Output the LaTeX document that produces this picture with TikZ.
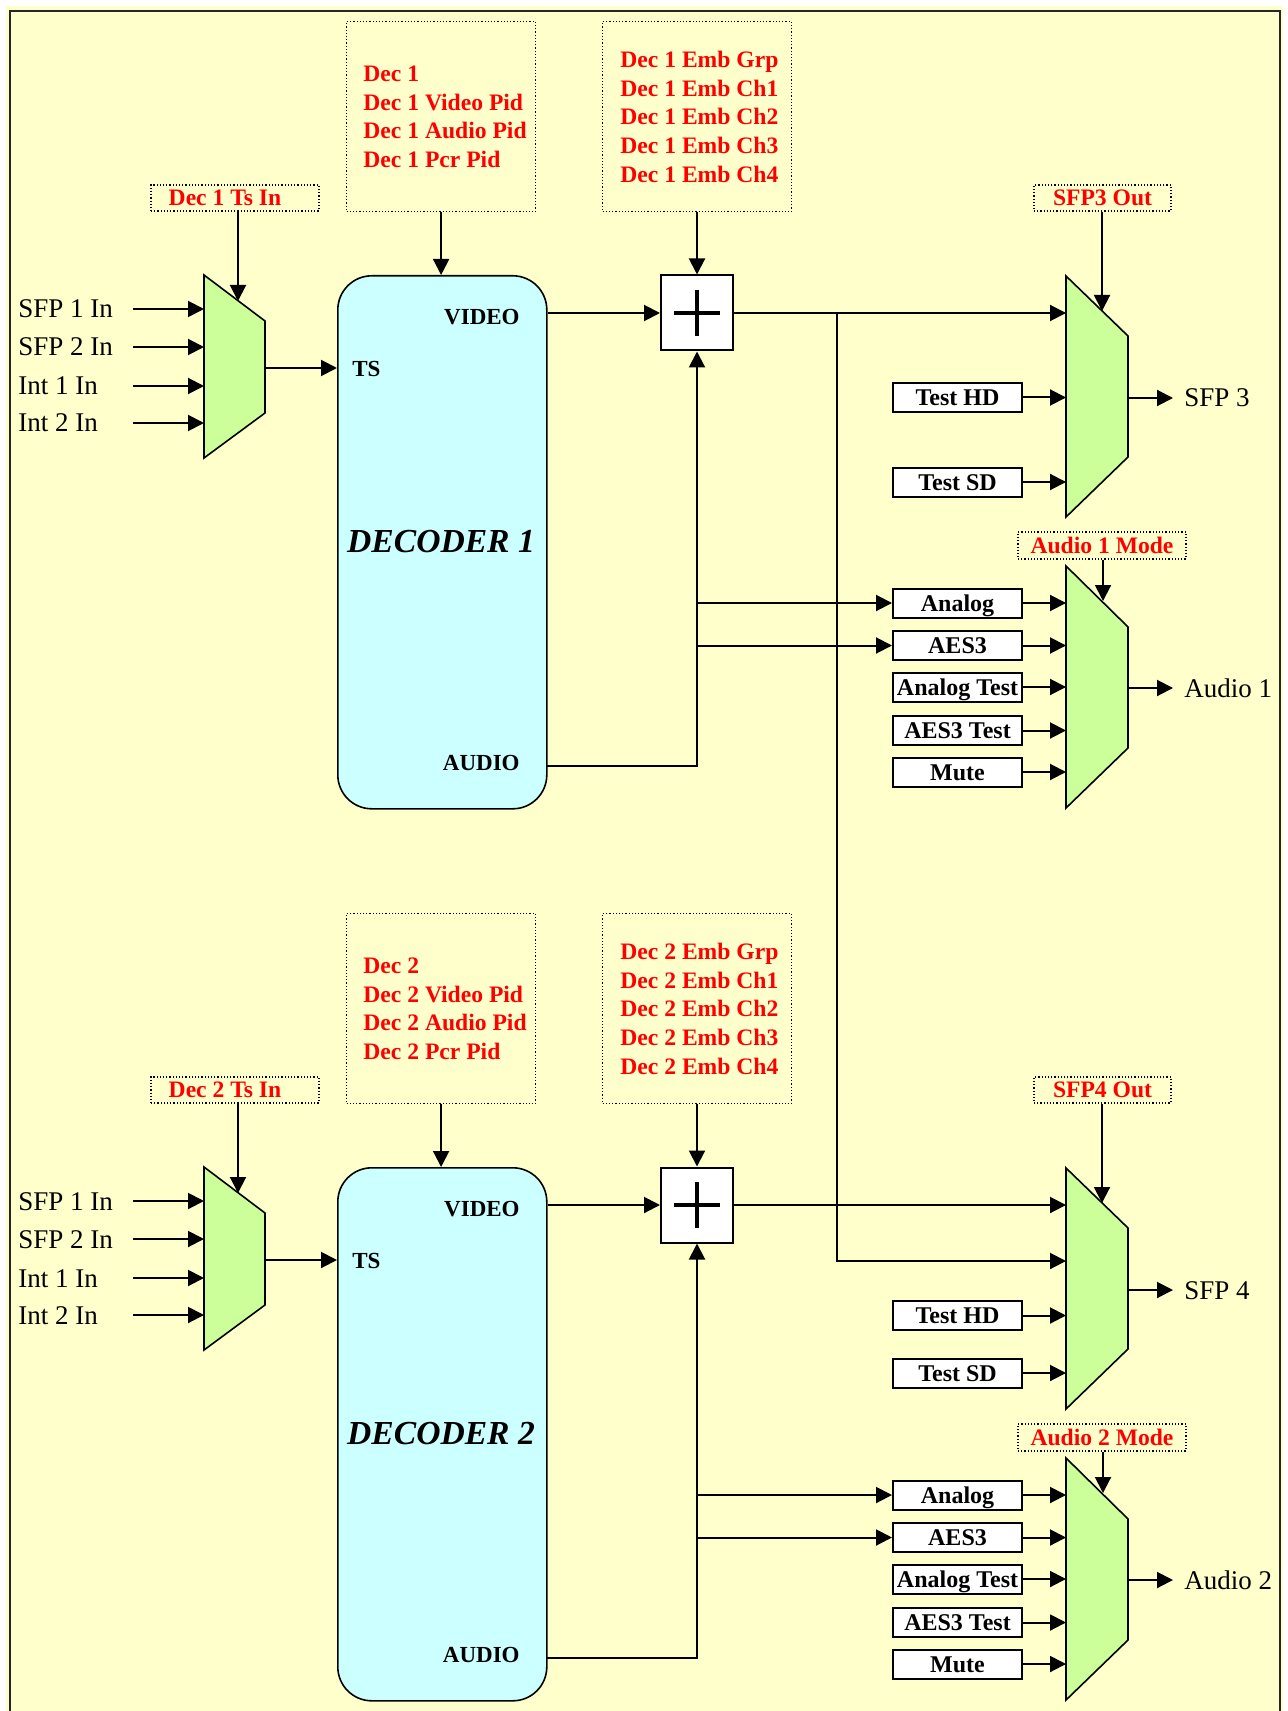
\documentclass[tikz,border=0pt]{standalone}
\usepackage{fontspec}
\setmainfont{Liberation Serif}
\usetikzlibrary{arrows.meta}
\definecolor{bgyel}{HTML}{FFFFCC}
\definecolor{deccyan}{HTML}{CCFFFF}
\definecolor{muxgreen}{HTML}{CCFF99}
\definecolor{redtxt}{HTML}{FF0000}
\begin{document}
\begin{tikzpicture}[x=0.5pt,y=-0.5pt,
  arr/.style={line width=1pt,-{Triangle[length=8pt,width=8pt]}},
  dotbox/.style={draw, densely dotted, line width=0.6pt, inner sep=0pt},
  rlab/.style={text=redtxt, font=\bfseries\fontsize{11.8}{14}\selectfont, inner sep=0pt},
  wbox/.style={draw, fill=white, line width=1pt, minimum width=64.5pt, minimum height=14.5pt, inner sep=0pt, text height=10pt, text depth=2pt, font=\bfseries\fontsize{12}{14}\selectfont},
  iolab/.style={font=\fontsize{13.5}{16}\selectfont, inner sep=0pt},
  port/.style={font=\bfseries\fontsize{11.5}{14}\selectfont, inner sep=0pt},
  muxsh/.style={draw, fill=muxgreen, line width=0.8pt, line join=miter},
  decsh/.style={draw, fill=deccyan, line width=0.8pt, rounded corners=17pt, inner sep=0pt},
  addsh/.style={draw, fill=white, line width=1pt, minimum width=36pt, minimum height=37.5pt, inner sep=0pt},
]
\useasboundingbox (0,0) rectangle (1288,1711);
\fill[white] (0,0) rectangle (1288,1711);
\fill[bgyel] (6,6) rectangle (1283,1711);
\draw[line width=1.2pt, black!85] (10,1720) -- (10,11) -- (1280,11) -- (1280,1720);

\foreach \s/\dy/\sn in {1/0/3, 2/892/4}{
  % ---------- input mux ----------
  \coordinate (ma\s) at (204,{275+\dy});
  \coordinate (mb\s) at (265,{321+\dy});
  \coordinate (mc\s) at (265,{413+\dy});
  \coordinate (md\s) at (204,{458+\dy});
  \draw[muxsh] (ma\s) -- (mb\s) -- (mc\s) -- (md\s) -- cycle;
  \foreach \tx/\yy [count=\kk] in {SFP 1 In/309, SFP 2 In/347, Int 1 In/386, Int 2 In/423}{
    \node[iolab, anchor=base west] (in\s\kk) at (18,{\yy+9+\dy}) {\tx};
    \coordinate (ins\s\kk) at (133,{\yy+\dy});
    \coordinate (inm\s\kk) at (204,{\yy+\dy});
    \draw[arr] (ins\s\kk) -- (inm\s\kk);
  }
  % ---------- decoder ----------
  \node[decsh, minimum width=104.5pt, minimum height=266.5pt, anchor=north west] (dec\s) at (337,{275+\dy}) {};
  \node[port, anchor=base east] (vid\s) at (520,{324.6+\dy}) {VIDEO};
  \node[port, anchor=base west] (ts\s) at (352,{376.6+\dy}) {TS};
  \node[port, anchor=base east] (aud\s) at (520,{770.6+\dy}) {AUDIO};
  \node[font=\bfseries\itshape\fontsize{16.8}{20}\selectfont, inner sep=0pt] (decl\s) at (441,{542+\dy}) {DECODER \s};
  \coordinate (mo\s) at (265,{368+\dy});
  \draw[arr] (mo\s) -- (dec\s.west |- mo\s);
  % ---------- Ts In control ----------
  \node[dotbox, minimum width=84pt, minimum height=13pt] (tsin\s) at (235,{198+\dy}) {};
  \node[rlab, anchor=base] (tsint\s) at (225,{205.8+\dy}) {Dec \s\ Ts In};
  \coordinate (tsc\s) at (238,{301+\dy});
  \draw[arr] (tsin\s.south -| tsc\s) -- (tsc\s);
  % ---------- PID box ----------
  \node[dotbox, minimum width=94.5pt, minimum height=95pt, anchor=north west] (pid\s) at (346,{21+\dy}) {};
  \foreach \tx/\yy [count=\kk] in {Dec \s/74, Dec \s\ Video Pid/103, Dec \s\ Audio Pid/131, Dec \s\ Pcr Pid/160}{
    \node[rlab, anchor=base west] (pidt\s\kk) at (363,{\yy+7.8+\dy}) {\tx};
  }
  \draw[arr] (pid\s.south) -- (pid\s.south |- dec\s.north);
  % ---------- Emb box ----------
  \node[dotbox, minimum width=94.5pt, minimum height=95pt, anchor=north west] (emb\s) at (602,{21+\dy}) {};
  \foreach \tx/\yy [count=\kk] in {Dec \s\ Emb Grp/60, Dec \s\ Emb Ch1/88.5, Dec \s\ Emb Ch2/117, Dec \s\ Emb Ch3/146, Dec \s\ Emb Ch4/175}{
    \node[rlab, anchor=base west] (embt\s\kk) at (620,{\yy+7.8+\dy}) {\tx};
  }
  % ---------- adder ----------
  \node[addsh] (add\s) at (697,{313+\dy}) {};
  \draw[line width=1.8pt] ([xshift=-11.3pt]add\s.center) -- ([xshift=11.3pt]add\s.center);
  \draw[line width=1.8pt] ([yshift=-11.3pt]add\s.center) -- ([yshift=11.3pt]add\s.center);
  \draw[arr] (emb\s.south -| add\s.north) -- (add\s.north);
  \draw[arr] (dec\s.east |- add\s) -- (add\s.west);
  \coordinate (audo\s) at (546,{766+\dy});
  \draw[arr] (audo\s) -| (add\s.south);
  % ---------- audio selector ----------
  \foreach \tx/\yy [count=\kk] in {Analog/603, AES3/645.5, Analog Test/687, AES3 Test/730.5, Mute/772}{
    \node[wbox] (ab\s\kk) at (957.5,{\yy+\dy}) {\tx};
    \coordinate (am\s\kk) at (1066,{\yy+\dy});
    \draw[arr] (ab\s\kk.east) -- (am\s\kk);
  }
  \draw[arr] (add\s.south |- ab\s1) -- (ab\s1.west);
  \draw[arr] (add\s.south |- ab\s2) -- (ab\s2.west);
  \coordinate (aa\s) at (1066,{566+\dy});
  \coordinate (abb\s) at (1128,{627+\dy});
  \coordinate (ac\s) at (1128,{748+\dy});
  \coordinate (ad\s) at (1066,{808+\dy});
  \draw[muxsh] (aa\s) -- (abb\s) -- (ac\s) -- (ad\s) -- cycle;
  \node[dotbox, rlab, minimum width=84pt, minimum height=13.5pt, text height=9.8pt, text depth=2pt] (mode\s) at (1102,{545.5+\dy}) {Audio \s\ Mode};
  \coordinate (modec\s) at (1103,{601+\dy});
  \draw[arr] (mode\s.south -| modec\s) -- (modec\s);
  \coordinate (aout\s) at (1128,{688+\dy});
  \coordinate (aoute\s) at (1173,{688+\dy});
  \draw[arr] (aout\s) -- (aoute\s);
  \node[iolab, anchor=base west] (alab\s) at (1184,{697+\dy}) {Audio \s};
  % ---------- SFP out mux ----------
  \coordinate (sa\s) at (1066,{276+\dy});
  \coordinate (sb\s) at (1128,{336+\dy});
  \coordinate (sc\s) at (1128,{457+\dy});
  \coordinate (sd\s) at (1066,{517+\dy});
  \draw[muxsh] (sa\s) -- (sb\s) -- (sc\s) -- (sd\s) -- cycle;
  \node[dotbox, rlab, minimum width=68.5pt, minimum height=13pt, text height=9.8pt, text depth=2pt] (sfpo\s) at (1102.5,{198+\dy}) {SFP\sn\ Out};
  \coordinate (sfpc\s) at (1102,{311+\dy});
  \draw[arr] (sfpo\s.south -| sfpc\s) -- (sfpc\s);
  \draw[arr] (add\s.east) -- (sa\s |- add\s);
  \coordinate (sout\s) at (1128,{398+\dy});
  \coordinate (soute\s) at (1173,{398+\dy});
  \draw[arr] (sout\s) -- (soute\s);
  \node[iolab, anchor=base west] (slab\s) at (1184,{407+\dy}) {SFP \sn};
}

% ---------- test sources ----------
\node[wbox] (thd1) at (957.5,397.5) {Test HD};
\node[wbox] (tsd1) at (957.5,482) {Test SD};
\node[wbox] (thd2) at (957.5,1315.5) {Test HD};
\node[wbox] (tsd2) at (957.5,1373) {Test SD};
\draw[arr] (thd1.east) -- (sa1 |- thd1);
\draw[arr] (tsd1.east) -- (sa1 |- tsd1);
\draw[arr] (thd2.east) -- (sa2 |- thd2);
\draw[arr] (tsd2.east) -- (sa2 |- tsd2);

% ---------- decoder 1 video to SFP 4 ----------
\coordinate (tap) at (836.5,313);
\coordinate (s2in) at (1066,1261);
\draw[arr] (tap) |- (s2in);
\end{tikzpicture}
\end{document}
